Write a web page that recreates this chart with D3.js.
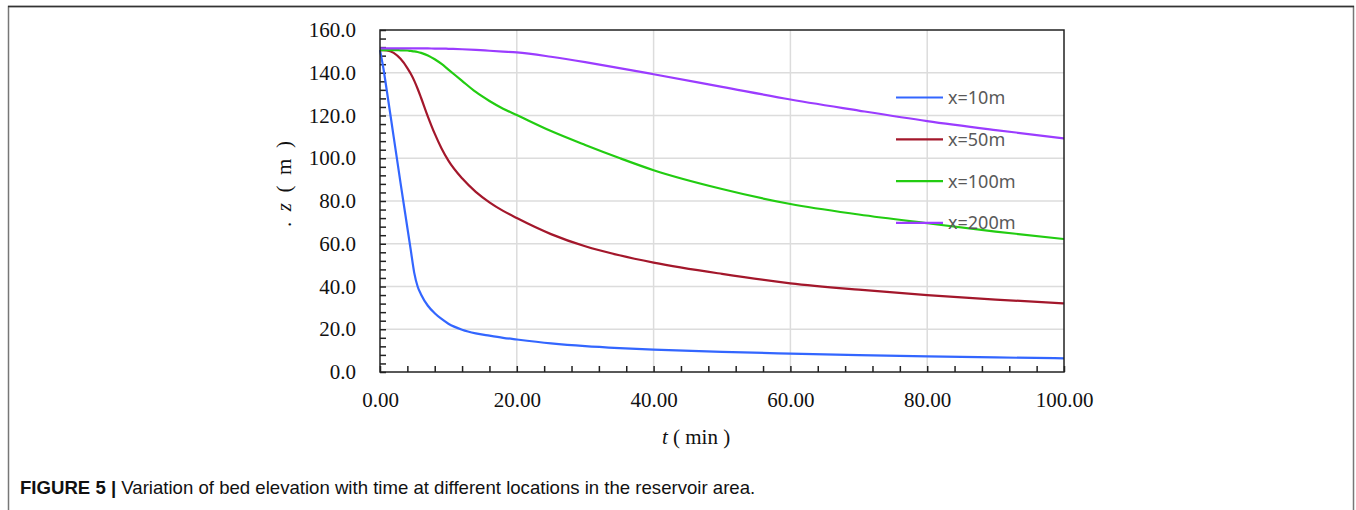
<!DOCTYPE html>
<html>
<head>
<meta charset="utf-8">
<script src="https://cdn.jsdelivr.net/npm/d3@7"></script>
<style>
  body { margin: 0; background: #fff; }
</style>
</head>
<body>
<script>
// time axis (min) shared by all four series
var times = [0, 0.5, 1, 2, 3, 4, 4.5, 5, 5.5, 6, 7, 8, 9, 10, 12, 14, 16, 18, 20, 25, 30, 35, 40, 50, 60, 70, 80, 90, 100];

// bed elevation z (m)
var z10 = [150.6, 142, 131.5, 110, 88.5, 67.5, 57, 46.5, 40, 36.3, 31, 27.5, 24.8, 22.6, 19.8, 18.1, 17.0, 16.0, 15.2, 13.4, 12.1, 11.2, 10.5, 9.4, 8.6, 7.9, 7.3, 6.8, 6.4];
var z50 = [150.6, 150.6, 150.5, 149.3, 146.5, 142.2, 139.5, 136.3, 132.5, 128.3, 119.5, 111.5, 104.6, 98.9, 90.6, 84.3, 79.4, 75.4, 72, 64.5, 58.8, 54.6, 51.2, 45.9, 41.5, 38.5, 36, 33.9, 32.1];
var z100 = [150.6, 150.6, 150.6, 150.6, 150.5, 150.4, 150.2, 150, 149.7, 149.3, 148.1, 146.3, 144.1, 141.5, 136.2, 131.0, 126.8, 123.2, 120.2, 112.7, 106.2, 100.1, 94.4, 85.6, 78.6, 73.7, 69.6, 65.7, 62.2];
var z200 = [151.4, 151.4, 151.4, 151.4, 151.4, 151.4, 151.4, 151.4, 151.4, 151.4, 151.4, 151.3, 151.3, 151.2, 151, 150.7, 150.3, 149.9, 149.5, 147.5, 145.0, 142.2, 139.3, 133.4, 127.5, 122.3, 117.4, 113.2, 109.3];

var seriesNames = ['x=10m', 'x=50m', 'x=100m', 'x=200m'];
var seriesColors = ['#3366ff', '#a3172b', '#22cc11', '#9b3cff'];

var xTicks = [0, 20, 40, 60, 80, 100];
var yTicks = [0, 20, 40, 60, 80, 100, 120, 140, 160];

var width = 1356, height = 510;
var plotLeft = 380, plotRight = 1064, plotTop = 30, plotBottom = 372;

var svg = d3.select('body').append('svg')
    .attr('width', width)
    .attr('height', height);

// outer figure frame
svg.append('path')
    .attr('d', 'M8.5,510 V6.5 H1353.5 V510')
    .attr('fill', 'none')
    .attr('stroke', '#777')
    .attr('stroke-width', 1.5);
svg.append('line')
    .attr('x1', 8).attr('x2', 1354).attr('y1', 6.5).attr('y2', 6.5)
    .attr('stroke', '#333').attr('stroke-width', 1.5);

var xScale = d3.scaleLinear().domain([0, 100]).range([plotLeft, plotRight]);
var yScale = d3.scaleLinear().domain([0, 160]).range([plotBottom, plotTop]);

// gridlines
svg.append('g').selectAll('line').data(yTicks.slice(1, -1)).enter()
    .append('line')
    .attr('x1', plotLeft).attr('x2', plotRight)
    .attr('y1', function(d) { return yScale(d); })
    .attr('y2', function(d) { return yScale(d); })
    .attr('stroke', '#dcdcdc').attr('stroke-width', 1.5);
svg.append('g').selectAll('line').data(xTicks.slice(1, -1)).enter()
    .append('line')
    .attr('y1', plotTop).attr('y2', plotBottom)
    .attr('x1', function(d) { return xScale(d); })
    .attr('x2', function(d) { return xScale(d); })
    .attr('stroke', '#dcdcdc').attr('stroke-width', 1.5);

// minor ticks pointing inward, every 4 units
var minorX = d3.range(0, 101, 4);
var minorY = d3.range(0, 161, 4);
var xMinor = svg.append('g')
    .attr('transform', 'translate(0,' + plotBottom + ')')
    .call(d3.axisBottom(xScale).tickValues(minorX).tickSize(-6).tickFormat(''));
var yMinor = svg.append('g')
    .attr('transform', 'translate(' + plotLeft + ',0)')
    .call(d3.axisLeft(yScale).tickValues(minorY).tickSize(-6).tickFormat(''));
[xMinor, yMinor].forEach(function(g) {
    g.select('.domain').remove();
    g.selectAll('line').attr('stroke', '#222').attr('stroke-width', 1.5);
});

// tick labels
var xAxis = svg.append('g')
    .attr('transform', 'translate(0,' + plotBottom + ')')
    .call(d3.axisBottom(xScale).tickValues(xTicks).tickSize(0).tickPadding(20).tickFormat(d3.format('.2f')));
var yAxis = svg.append('g')
    .attr('transform', 'translate(' + plotLeft + ',0)')
    .call(d3.axisLeft(yScale).tickValues(yTicks).tickSize(0).tickPadding(24).tickFormat(d3.format('.1f')));
[xAxis, yAxis].forEach(function(g) {
    g.select('.domain').remove();
    g.selectAll('text')
        .attr('font-family', '"Liberation Serif", "Times New Roman", serif')
        .attr('font-size', 21)
        .attr('fill', '#111');
});

// lines
var line = d3.line()
    .x(function(d) { return xScale(d[0]); })
    .y(function(d) { return yScale(d[1]); })
    .curve(d3.curveMonotoneX);

[z10, z50, z100, z200].forEach(function(vals, i) {
    var pts = times.map(function(t, j) { return [t, vals[j]]; });
    svg.append('path')
        .attr('d', line(pts))
        .attr('fill', 'none')
        .attr('stroke', seriesColors[i])
        .attr('stroke-width', 2.2);
});

// plot frame
svg.append('rect')
    .attr('x', plotLeft).attr('y', plotTop)
    .attr('width', plotRight - plotLeft).attr('height', plotBottom - plotTop)
    .attr('fill', 'none')
    .attr('stroke', '#222')
    .attr('stroke-width', 1.5);

// legend
var legend = svg.append('g');
seriesNames.forEach(function(name, i) {
    var y = 97.5 + i * 41.8;
    legend.append('line')
        .attr('x1', 896).attr('x2', 943).attr('y1', y).attr('y2', y)
        .attr('stroke', seriesColors[i]).attr('stroke-width', 2.2);
    legend.append('text')
        .attr('x', 948).attr('y', y + 6.5)
        .attr('font-family', '"Noto Sans", "Open Sans", sans-serif')
        .attr('font-size', 18)
        .attr('fill', '#595959')
        .text(name);
});

// axis titles
var xTitle = svg.append('text')
    .attr('x', 696).attr('y', 444)
    .attr('text-anchor', 'middle')
    .attr('font-family', '"Liberation Serif", "Times New Roman", serif')
    .attr('font-size', 21)
    .attr('fill', '#111');
xTitle.append('tspan').attr('font-style', 'italic').text('t');
xTitle.append('tspan').text(' ( min )');

var yTitle = svg.append('text')
    .attr('transform', 'translate(291,184) rotate(-90)')
    .attr('text-anchor', 'middle')
    .attr('font-family', '"Liberation Serif", "Times New Roman", serif')
    .attr('font-size', 21)
    .attr('fill', '#111')
    .style('white-space', 'pre');
yTitle.append('tspan').text('.  ');
yTitle.append('tspan').attr('font-style', 'italic').text('z');
yTitle.append('tspan').text('  (  m  )');

// caption
var caption = svg.append('text')
    .attr('x', 20).attr('y', 494)
    .attr('font-family', '"Liberation Sans Narrow", "Arial Narrow", "Liberation Sans", sans-serif')
    .attr('font-size', 18.6)
    .attr('fill', '#111');
caption.append('tspan').attr('font-weight', 'bold').text('FIGURE 5 | ');
caption.append('tspan').text('Variation of bed elevation with time at different locations in the reservoir area.');
</script>
</body>
</html>
